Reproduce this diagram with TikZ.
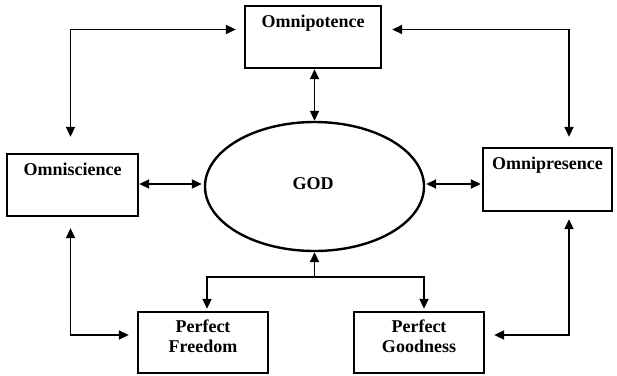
\documentclass[tikz,border=0pt]{standalone}
\usepackage{fontspec}
\setmainfont{Liberation Serif}
\usetikzlibrary{arrows.meta,shapes.geometric}
\begin{document}
\begin{tikzpicture}[x=1pt,y=-1pt,
  box/.style={draw,line width=2.4pt,rectangle,inner sep=0pt},
  word/.style={font=\fontsize{18}{20}\selectfont\bfseries,align=center,inner sep=0pt},
  link/.style={line width=1.8pt,{Triangle[length=10pt,width=9pt]}-{Triangle[length=10pt,width=9pt]}},
  uplink/.style={line width=1.8pt,-{Triangle[length=10pt,width=9pt]}},
  plain/.style={line width=1.8pt}]
\useasboundingbox (0,0) rectangle (617,375);

% attribute boxes
\node[box,minimum width=136pt,minimum height=62pt] (omnipotence) at (313,37) {};
\node[box,minimum width=131pt,minimum height=62pt] (omniscience) at (72.5,185) {};
\node[box,minimum width=129pt,minimum height=63pt] (omnipresence) at (547.5,179.5) {};
\node[box,minimum width=130pt,minimum height=61pt] (freedom) at (203,342.5) {};
\node[box,minimum width=130pt,minimum height=61pt] (goodness) at (419,342.5) {};
\node[draw,line width=2.4pt,ellipse,minimum width=219pt,minimum height=129pt,inner sep=0pt] (god) at (314.5,186.5) {};

% labels
\node[word] (tpotence) at ([yshift=-18pt]omnipotence.north) {Omnipotence};
\node[word] (tscience) at ([yshift=-17pt]omniscience.north) {Omniscience};
\node[word] (tpresence) at ([yshift=-18pt]omnipresence.north) {Omnipresence};
\node[word] (tfreedom) at ([yshift=-25pt]freedom.north) {Perfect\\Freedom};
\node[word] (tgoodness) at ([yshift=-25pt]goodness.north) {Perfect\\Goodness};
\node[word] (tgod) at (313,184) {GOD};

% routing points
\coordinate (tl) at (70.5,29.5);
\coordinate (tr) at (569,29.5);
\coordinate (bl) at (70.5,335);
\coordinate (brc) at (569,335);
\coordinate (jn) at (316,277);

% connectors
\draw[link,shorten <=8pt,shorten >=16pt] (omnipotence.west |- tl) -| (omniscience.north -| tl);
\draw[link,shorten <=10pt,shorten >=10pt] (omnipotence.east |- tr) -| (omnipresence.north -| tr);
\draw[link] (god.north) -- (god.north |- omnipotence.south);
\draw[link,shorten >=2pt] (omniscience.east |- 0,184) -- (god.west |- 0,184);
\draw[link,shorten <=1pt,shorten >=1pt] (god.east |- 0,184) -- (omnipresence.west |- 0,184);
\draw[link,shorten <=11pt,shorten >=8pt] (omniscience.south -| bl) |- (freedom.west |- bl);
\draw[link,shorten <=7pt,shorten >=9pt] (omnipresence.south -| brc) |- (goodness.east |- brc);
\draw[uplink] (god.south |- jn) -- (god.south);
\draw[link,shorten <=2pt,shorten >=2pt] ([xshift=4pt]freedom.north) |- (jn) -| ([xshift=5pt]goodness.north);
\end{tikzpicture}
\end{document}
